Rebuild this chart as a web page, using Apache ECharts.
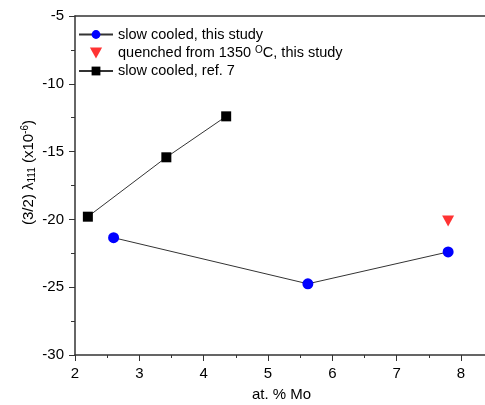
<!DOCTYPE html>
<html>
<head>
<meta charset="utf-8">
<script src="https://cdn.jsdelivr.net/npm/echarts@6/dist/echarts.min.js"></script>
<style>
  html, body { margin: 0; padding: 0; background: #fff; }
  #chart { width: 485px; height: 405px; }
</style>
</head>
<body>
<div id="chart"></div>
<script>
// 数据
var slowX = [2.6, 5.62, 7.8];
var slowY = [-21.35, -24.75, -22.4];
var quenchX = [7.8];
var quenchY = [-20.12];
var refX = [2.2, 3.42, 4.35];
var refY = [-19.8, -15.42, -12.4];

function pairs(xs, ys) {
    return xs.map(function (x, i) { return [x, ys[i]]; });
}

var chart = echarts.init(document.getElementById('chart'));
var font = 'Liberation Sans, Arial, sans-serif';
var axisColor = '#333';
var xMin = 2, xMax = 8.42;

var option = {
    animation: false,
    grid: {
        left: 75,
        right: -3,
        top: 16,
        bottom: 50,
        outerBoundsMode: 'none',
        containLabel: false
    },
    legend: {
        orient: 'vertical',
        left: 73,
        top: 22,
        itemWidth: 34,
        itemHeight: 11,
        itemGap: 3,
        textStyle: {
            fontFamily: font,
            fontSize: 14.5,
            color: '#000',
            rich: {
                sup: { fontSize: 10, verticalAlign: 'top', padding: [0, 0, 6, 0], fontFamily: font }
            }
        },
        formatter: function (name) {
            return name.replace('°', '{sup|O}');
        },
        data: [
            'slow cooled, this study',
            { name: 'quenched from 1350 °C, this study', icon: 'path://M0,0 L10,0 L5,9 Z' },
            'slow cooled, ref. 7'
        ]
    },
    xAxis: [{
        type: 'value',
        min: xMin,
        max: xMax,
        interval: 1,
        name: 'at. % Mo',
        nameLocation: 'middle',
        nameGap: 32,
        nameTextStyle: { fontFamily: font, fontSize: 15, color: '#000' },
        axisLine: { lineStyle: { color: axisColor, width: 1.5 } },
        axisTick: { inside: false, length: 6, lineStyle: { color: axisColor } },
        minorTick: { show: true, splitNumber: 2, length: 3, lineStyle: { color: axisColor } },
        axisLabel: {
            fontFamily: font, fontSize: 15, color: '#000', margin: 11,
            formatter: function (v) { return Number.isInteger(v) ? v : ''; }
        },
        splitLine: { show: false }
    }, {
        // 上边框
        type: 'value',
        position: 'top',
        min: xMin,
        max: xMax,
        axisLine: { show: true, lineStyle: { color: axisColor, width: 1.5 } },
        axisTick: { show: false },
        axisLabel: { show: false },
        splitLine: { show: false }
    }],
    yAxis: {
        type: 'value',
        min: -30,
        max: -5,
        interval: 5,
        name: '(3/2) λ{sub|111} (x10{sup|-6})',
        nameLocation: 'middle',
        nameRotate: 90,
        nameGap: 38,
        nameMoveOverlap: false,
        nameTextStyle: {
            fontFamily: font, fontSize: 15, color: '#000',
            padding: [0, 0, 0, 26],
            rich: {
                sub: { fontSize: 10, verticalAlign: 'bottom', padding: [6, 0, 0, 0], fontFamily: font },
                sup: { fontSize: 10, verticalAlign: 'top', padding: [0, 0, 7, 0], fontFamily: font }
            }
        },
        axisLine: { show: true, lineStyle: { color: axisColor, width: 1.5 } },
        axisTick: { inside: false, length: 6, lineStyle: { color: axisColor } },
        minorTick: { show: true, splitNumber: 2, length: 4, lineStyle: { color: axisColor } },
        axisLabel: { fontFamily: font, fontSize: 15, color: '#000', margin: 11 },
        splitLine: { show: false }
    },
    series: [{
        name: 'slow cooled, this study',
        type: 'line',
        data: pairs(slowX, slowY),
        symbol: 'circle',
        symbolSize: 11,
        itemStyle: { color: '#0000ff' },
        lineStyle: { color: '#333', width: 1 }
    }, {
        name: 'quenched from 1350 °C, this study',
        type: 'scatter',
        data: pairs(quenchX, quenchY),
        symbol: 'path://M0,0 L10,0 L5,9 Z',
        symbolSize: [12, 11],
        itemStyle: { color: '#ff0000' }
    }, {
        name: 'slow cooled, ref. 7',
        type: 'line',
        data: pairs(refX, refY),
        symbol: 'rect',
        symbolSize: 10,
        itemStyle: { color: '#000' },
        lineStyle: { color: '#333', width: 1 }
    }]
};

chart.setOption(option);
</script>
</body>
</html>
